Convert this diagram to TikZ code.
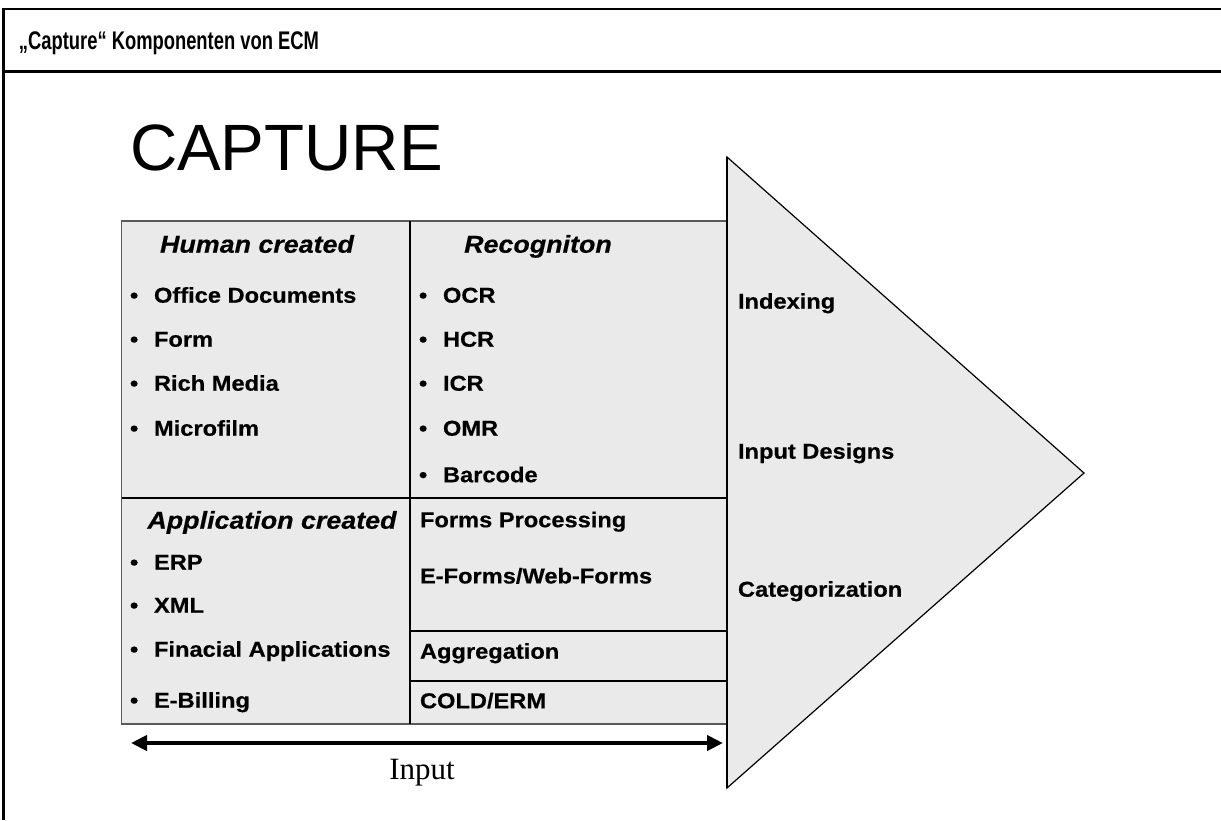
\documentclass[tikz,border=0pt]{standalone}
\usepackage{fontspec}
\setmainfont{Liberation Sans}
\newfontfamily\bodyfont{Liberation Sans}[FakeStretch=1.1,FakeBold=0.5]
\newfontfamily\narrowfont{Liberation Sans}[FakeStretch=0.72]
\newfontfamily\seriffont{Liberation Serif}
\usetikzlibrary{arrows.meta}
\definecolor{panel}{HTML}{EAEAEA}
\definecolor{rim}{HTML}{5A5A5A}
\begin{document}
\begin{tikzpicture}[x=1pt,y=-1pt,
  every node/.style={inner sep=0pt,outer sep=0pt},
  item/.style={anchor=west,text height=15.4pt,text depth=0pt,
    font=\bodyfont\fontsize{21.5}{24}\selectfont\bfseries},
  head/.style={text height=17.4pt,text depth=0pt,
    font=\bodyfont\fontsize{24.4}{28}\selectfont\bfseries\itshape},
  grid/.style={line width=1.8pt,black},
  frame/.style={line width=2.6pt,black}]
\useasboundingbox (0,0) rectangle (1221,820);

% page frame and title bar
\draw[frame] (3.3,820) -- (3.3,9) -- (1225,9);
\draw[frame] (3.3,71.3) -- (1225,71.3);
\node[anchor=west,text height=18.3pt,text depth=0pt,
  font=\narrowfont\fontsize{25.5}{28}\selectfont\bfseries] (title) at (19,40)
  {„Capture“ Komponenten von ECM};

\node[anchor=base west,font=\fontsize{65.5}{72}\selectfont] (cap) at (130,170) {CAPTURE};

% arrow shape
\draw[line width=1.2pt,fill=panel] (727,157) -- (1084,473) -- (727,788) -- cycle;

% input table
\fill[panel] (121.5,221) rectangle (727,724);
\draw[line width=1.5pt,rim] (727,221) -- (121.5,221) -- (121.5,724) -- (727,724);
\draw[grid] (410,221) -- (410,724);
\draw[grid] (121.5,498) -- (727,498);
\draw[grid] (410,631) -- (727,631);
\draw[grid] (410,681) -- (727,681);
\draw[line width=1.2pt] (727,157) -- (727,788);

% human created
\node[head] (hc) at (257,244) {Human created};
\foreach \t/\y [count=\i] in {Office Documents/295,Form/339,Rich Media/383,Microfilm/428}{
  \node[item] (hb\i) at (130,\y) {•};
  \node[item] (h\i) at (154,\y) {\t};
}
% application created
\node[head] (ac) at (272,520) {Application created};
\foreach \t/\y [count=\i] in {ERP/562,XML/605,Finacial Applications/649,E-Billing/700}{
  \node[item] (ab\i) at (130,\y) {•};
  \node[item] (a\i) at (154,\y) {\t};
}
% recognition
\node[head] (rc) at (538,244) {Recogniton};
\foreach \t/\y [count=\i] in {OCR/295,HCR/339,ICR/383,OMR/428,Barcode/474.5}{
  \node[item] (rb\i) at (419,\y) {•};
  \node[item] (r\i) at (443,\y) {\t};
}
\node[item] (fp) at (420,519.5) {Forms Processing};
\node[item] (ef) at (420,575.7) {E-Forms/Web-Forms};
\node[item] (ag) at (420,651) {Aggregation};
\node[item] (cold) at (420,700.5) {COLD/ERM};

% stages inside the arrow
\node[item] (ix) at (738,301) {Indexing};
\node[item] (id) at (738,451) {Input Designs};
\node[item] (ct) at (738,589) {Categorization};

% input span
\coordinate (il) at (131,743);
\coordinate (ir) at (723,743);
\draw[line width=4pt,{Triangle[length=16pt,width=15pt]}-{Triangle[length=16pt,width=15pt]}] (il) -- (ir);
\node[font=\seriffont\fontsize{31}{34}\selectfont] (inp) at (422,773) {Input};
\end{tikzpicture}
\end{document}
